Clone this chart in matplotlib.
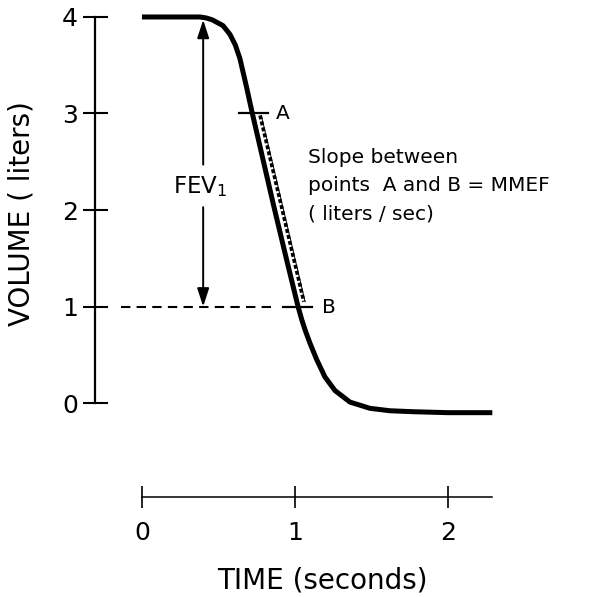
import matplotlib
matplotlib.use("Agg")
import matplotlib.pyplot as plt

# ---- data ----
time_s = [0.0, 0.30, 0.38, 0.42, 0.46, 0.53, 0.575, 0.61, 0.64, 0.662, 0.684,
          0.706, 0.72, 0.79, 0.86, 0.94, 1.02, 1.045, 1.07, 1.098, 1.142,
          1.196, 1.261, 1.359, 1.49, 1.62, 1.77, 2.0, 2.29]
volume_l = [4.0, 4.0, 4.0, 3.99, 3.97, 3.91, 3.82, 3.71, 3.57, 3.42, 3.27,
            3.11, 3.01, 2.53, 2.05, 1.52, 1.0, 0.86, 0.74, 0.62, 0.45,
            0.27, 0.13, 0.01, -0.055, -0.08, -0.09, -0.10, -0.10]

point_a = (0.772, 2.98)    # start of MMEF slope line
point_b = (1.058, 1.05)    # end of MMEF slope line
fev1_time = 0.40
fev1_top, fev1_bottom = 3.97, 1.0

volume_ticks = [0, 1, 2, 3, 4]
volume_ticklabels = ["0", "1", "2", "3", "4"]
time_ticks = [0, 1, 2]
time_ticklabels = ["0", "1", "2"]
time_axis_end = 2.29

plt.rcParams['font.family'] = ['DejaVu Sans']

fig = plt.figure(figsize=(5.93, 5.97), dpi=100)
ax = fig.add_axes([0, 0, 1, 1])
ax.set_xlim(-0.928, 2.948)
ax.set_ylim(-2.01, 4.176)
ax.patch.set_visible(False)

# spines as the two drawn axes
for s in ("top", "right"):
    ax.spines[s].set_visible(False)
ax.spines["left"].set_position(("data", -0.31))
ax.spines["left"].set_bounds(0, 4)
ax.spines["left"].set_linewidth(1.6)
ax.spines["bottom"].set_position(("data", -0.974))
ax.spines["bottom"].set_bounds(0, time_axis_end)
ax.spines["bottom"].set_linewidth(1.1)

ax.set_yticks(volume_ticks)
ax.set_yticklabels(volume_ticklabels)
ax.set_xticks(time_ticks)
ax.set_xticklabels(time_ticklabels)
ax.tick_params(axis="y", direction="inout", length=18, width=1.5,
               labelsize=18, pad=3)
ax.tick_params(axis="x", direction="inout", length=16, width=1.2,
               labelsize=18, pad=9)

# volume-time curve
ax.plot(time_s, volume_l, color="black", lw=3.6, solid_capstyle="butt",
        solid_joinstyle="round")

# horizontal marks at A and B
ax.plot([0.634, 0.824], [3.0, 3.0], color="black", lw=1.6)
ax.plot([0.92, 1.11], [1.0, 1.0], color="black", lw=1.6)

# MMEF slope line (dotted)
ax.plot([point_a[0] + 0.008, point_b[0] + 0.008], [point_a[1], point_b[1]],
        color="black", lw=0.7)
ax.plot([point_a[0], point_b[0]], [point_a[1], point_b[1]],
        color="black", lw=2.6, linestyle=(0, (1.1, 0.6)))

# dashed line at 1 liter
ax.plot([-0.14, 0.87], [1.0, 1.0], color="black", lw=1.5,
        linestyle=(0, (4.5, 3.0)))

# FEV1 double arrow
arrow_style = "-|>,head_length=1.1,head_width=0.36"
ax.annotate("", xy=(fev1_time, fev1_top), xytext=(fev1_time, 2.47),
            arrowprops=dict(arrowstyle=arrow_style, color="black", lw=1.4,
                            shrinkA=0, shrinkB=0))
ax.annotate("", xy=(fev1_time, fev1_bottom), xytext=(fev1_time, 2.03),
            arrowprops=dict(arrowstyle=arrow_style, color="black", lw=1.4,
                            shrinkA=0, shrinkB=0))
ax.text(fev1_time - 0.02, 2.24, r"FEV$_\mathregular{1}$", fontsize=16.5,
        ha="center", va="center")

# labels A, B and explanation
ax.text(0.92, 3.0, "A", fontsize=14.5, ha="center", va="center")
ax.text(1.22, 0.99, "B", fontsize=14.5, ha="center", va="center")
ax.text(1.085, 2.64, "Slope between\npoints  A and B = MMEF\n( liters / sec)",
        fontsize=14.5, ha="left", va="top", linespacing=1.6)

# axis titles
fig.text(0.036, 0.643, "VOLUME ( liters)", rotation=90, fontsize=20,
         ha="center", va="center")
fig.text(0.543, 0.028, "TIME (seconds)", fontsize=20, ha="center",
         va="center")

fig.savefig("out.png", dpi=100)
